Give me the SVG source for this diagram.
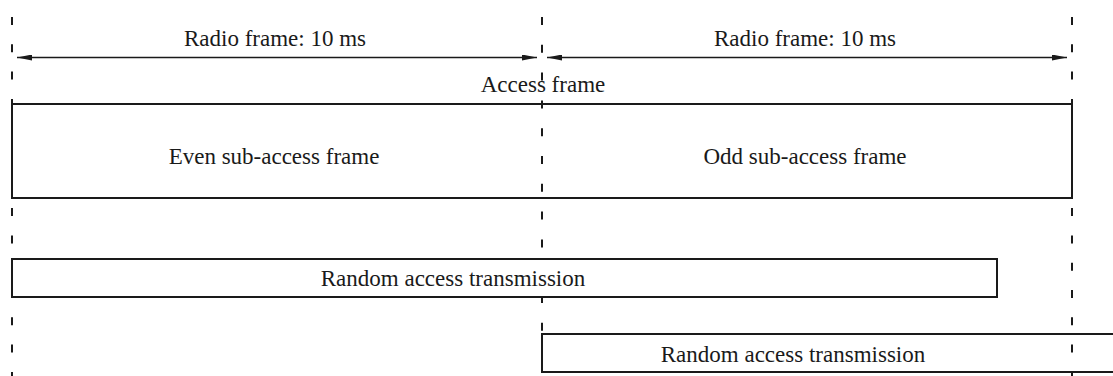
<svg xmlns="http://www.w3.org/2000/svg" width="1113" height="376" viewBox="0 0 1113 376">
<style>
text{font-family:"Liberation Serif","Times New Roman",serif;font-size:23px;fill:#1a1a1a;text-anchor:middle}
.box{fill:none;stroke:#1a1a1a;stroke-width:2}
.dash{stroke:#1a1a1a;stroke-width:2;stroke-dasharray:8 19.3}
.dashm{stroke:#1a1a1a;stroke-width:2;stroke-dasharray:8 19.8}
.arr{stroke:#1a1a1a;stroke-width:1.3;fill:none;marker-start:url(#ah);marker-end:url(#ah)}
</style>
<defs>
<marker id="ah" viewBox="0 0 15 6" refX="15" refY="3" markerWidth="15" markerHeight="6" markerUnits="userSpaceOnUse" orient="auto-start-reverse">
<path d="M0,0 L15,3 L0,6 Z" fill="#1a1a1a"/>
</marker>
</defs>
<g id="guides">
<line class="dash" x1="12" y1="17" x2="12" y2="376"/>
<line class="dashm" x1="542" y1="17" x2="542" y2="376"/>
<line class="dash" x1="1072" y1="17" x2="1072" y2="376"/>
</g>
<g id="connectors">
<line class="arr" x1="17" y1="57.5" x2="537" y2="57.5"/>
<line class="arr" x1="547" y1="57.5" x2="1067" y2="57.5"/>
</g>
<g id="label-radio1"><text x="275" y="46">Radio frame: 10 ms</text></g>
<g id="label-radio2"><text x="805" y="46">Radio frame: 10 ms</text></g>
<g id="label-access"><text x="543" y="92">Access frame</text></g>
<g id="access-frame">
<rect class="box" x="12" y="104" width="1060" height="94"/>
<text x="274" y="164">Even sub-access frame</text>
<text x="805" y="164">Odd sub-access frame</text>
</g>
<g id="rat1">
<rect class="box" x="12" y="259" width="985" height="38" style="fill:#fff"/>
<text x="453" y="286">Random access transmission</text>
</g>
<g id="rat2">
<rect class="box" x="542" y="334" width="580" height="38"/>
<text x="793" y="362">Random access transmission</text>
</g>
</svg>
